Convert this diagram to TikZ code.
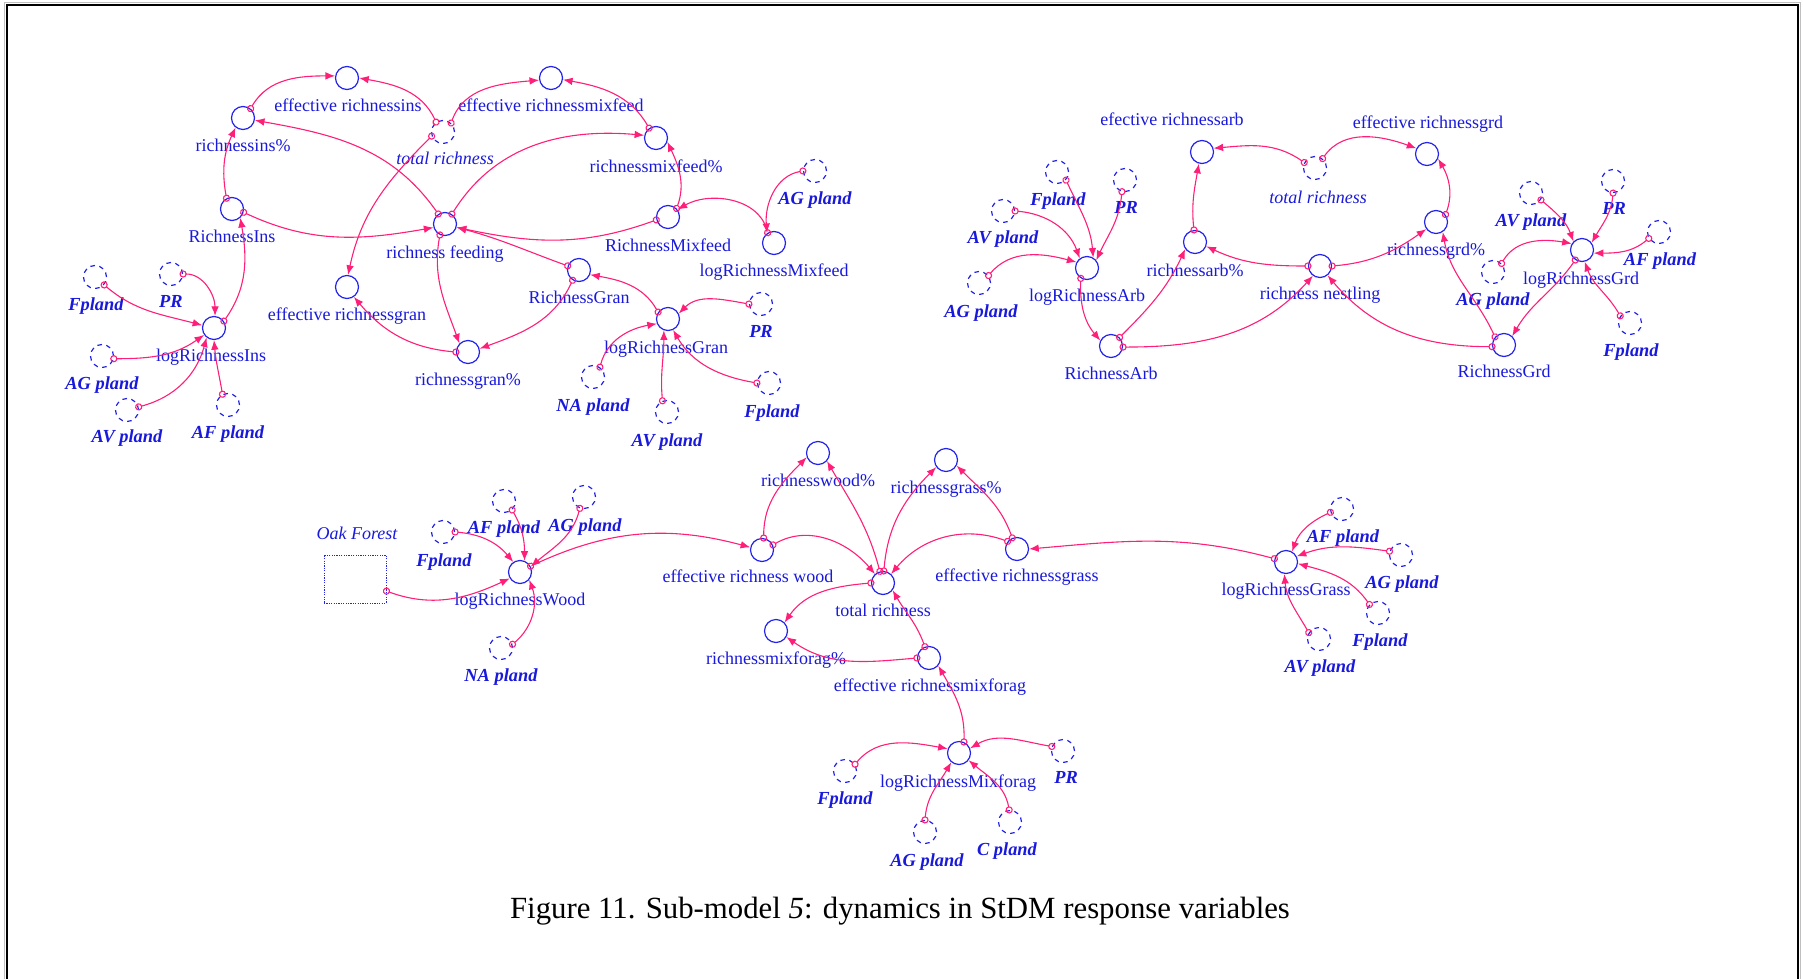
\documentclass[tikz,border=0pt]{standalone}
\usepackage{fontspec}
\setmainfont{Liberation Serif}
\usetikzlibrary{arrows.meta}

\definecolor{lnkc}{RGB}{255,30,120}
\definecolor{varc}{RGB}{35,35,235}
\definecolor{txtc}{RGB}{25,25,220}

% auxiliary variable: solid circle with its name below
\newcommand\auxv[4]{\node[auxc] (#1) at (#2) {};\node[lbl] (#1-t) at (#3) {#4};}
% shadow variable: dashed circle, bold italic name
\newcommand\shdv[4]{\node[shdc] (#1) at (#2) {};\node[slbl] (#1-t) at (#3) {#4};}
% shadow variable with plain italic name
\newcommand\shdiv[4]{\node[shdc] (#1) at (#2) {};\node[ilbl] (#1-t) at (#3) {#4};}
% causal link: source, source anchor, out, in, target, target anchor
\newcommand\lk[6]{\draw[lnk] (#1.#2) to[out=#3,in=#4] (#5.#6);}

\begin{document}
\begin{tikzpicture}[x=0.5pt,y=-0.5pt,
  auxc/.style={circle, draw=varc, line width=0.6pt, minimum size=11.5pt, inner sep=0pt},
  shdc/.style={auxc, dash pattern=on 2.3pt off 2.2pt},
  lbl/.style={text=txtc, font=\fontsize{9}{10}\selectfont, inner sep=0pt, text height=6.3pt, text depth=1.8pt},
  slbl/.style={lbl, font=\fontsize{9.2}{10}\selectfont\bfseries\itshape},
  ilbl/.style={lbl, font=\fontsize{9}{10}\selectfont\itshape},
  lnk/.style={draw=lnkc, line width=0.55pt,
    arrows={Circle[open,length=3.6pt,width=3.6pt]-Latex[length=4.8pt,width=3.8pt]},
    shorten <=-1.8pt},
  stockbox/.style={draw=varc, line width=0.45pt, dash pattern=on 0.6pt off 0.6pt,
    minimum width=31pt, minimum height=24pt, inner sep=0pt},
  figcap/.style={font=\fontsize{15.4}{18}\selectfont, inner sep=0pt, anchor=base}
]
\useasboundingbox (0,0) rectangle (1803,979);

% frame
\draw[gray!50, line width=0.5pt] (4,979) -- (4,2.5) -- (1800,2.5) -- (1800,979);
\draw[black, line width=1pt] (6.5,979) -- (6.5,5) -- (1797.5,5) -- (1797.5,979);

% ---------------- feeding guilds ----------------
\auxv{eri}{347,78}{348,107}{effective richnessins}
\auxv{erm}{551,78}{551,107}{effective richnessmixfeed}
\auxv{rip}{243,118}{243,147}{richnessins\%}
\shdiv{tra}{443,132}{445,160}{total richness}
\auxv{rmp}{656,138}{656,168}{richnessmixfeed\%}
\shdv{aga}{815,171}{815,200}{AG pland}
\auxv{ri}{232,209}{232,238}{RichnessIns}
\auxv{rf}{445,224}{445,254}{richness feeding}
\auxv{rm}{668,217}{668,247}{RichnessMixfeed}
\auxv{lrm}{774,243}{774,272}{logRichnessMixfeed}
\auxv{rg}{579,270}{579,299}{RichnessGran}
\auxv{erg}{347,287}{347,316}{effective richnessgran}
\shdv{fpa}{95,277}{96,306}{Fpland}
\shdv{pra}{171,274}{171,303}{PR}
\auxv{lri}{214,328}{211,357}{logRichnessIns}
\auxv{lrg}{668,319}{666,349}{logRichnessGran}
\shdv{prb}{761,304}{761,333}{PR}
\shdv{agb}{102,356}{102,385}{AG pland}
\auxv{rgp}{468,352}{468,381}{richnessgran\%}
\shdv{nab}{593,377}{593,407}{NA pland}
\shdv{avb}{667,412}{667,442}{AV pland}
\shdv{fpb}{769,383}{772,413}{Fpland}
\shdv{ava}{127,410}{127,438}{AV pland}
\shdv{afa}{228,405}{228,434}{AF pland}

\lk{tra}{125}{115}{-10}{eri}{0}
\lk{tra}{48}{70}{185}{erm}{190}
\lk{rip}{51}{60}{180}{eri}{170}
\lk{rmp}{125}{120}{-10}{erm}{-8}
\lk{tra}{200}{225}{78}{erg}{85}
\lk{ri}{117}{100}{245}{rip}{232}
\lk{ri}{-16}{-25}{190}{rf}{197}
\lk{rf}{124}{125}{-10}{rip}{-11}
\lk{rf}{55}{58}{175}{rmp}{167}
\lk{rf}{245}{260}{110}{rgp}{135}
\lk{rm}{194}{200}{-12}{rf}{-16}
\lk{rm}{45}{70}{-65}{rmp}{-19}
\lk{lrm}{122}{105}{30}{rm}{38}
\lk{aga}{180}{190}{95}{lrm}{125}
\lk{rg}{160}{160}{-15}{rf}{-16}
\lk{rg}{238}{245}{20}{rgp}{16}
\lk{lrg}{145}{120}{-10}{rg}{-23}
\lk{prb}{180}{170}{45}{lrg}{27}
\lk{nab}{55}{75}{190}{lrg}{203}
\lk{avb}{112}{95}{270}{lrg}{250}
\lk{fpb}{180}{170}{-60}{lrg}{-65}
\lk{rgp}{180}{175}{-50}{erg}{-55}
\lk{fpa}{-41}{-40}{165}{lri}{167}
\lk{pra}{0}{0}{90}{lri}{85}
\lk{agb}{-13}{0}{215}{lri}{215}
\lk{ava}{15}{15}{255}{lri}{232}
\lk{afa}{117}{100}{275}{lri}{270}
\lk{lri}{35}{55}{-80}{ri}{-47}

% ---------------- nesting guilds ----------------
\auxv{era}{1202,152}{1172,121}{efective richnessarb}
\auxv{erd}{1427,154}{1428,124}{effective richnessgrd}
\shdiv{trb}{1315,168}{1318,199}{total richness}
\shdv{fpc}{1057,172}{1058,201}{Fpland}
\shdv{prc}{1125,180}{1126,209}{PR}
\shdv{avc}{1003,211}{1003,239}{AV pland}
\shdv{agc}{979,283}{981,313}{AG pland}
\auxv{lra}{1087,268}{1087,297}{logRichnessArb}
\auxv{rap}{1195,242}{1195,272}{richnessarb\%}
\auxv{rn}{1320,266}{1320,295}{richness nestling}
\auxv{rdp}{1436,222}{1436,251}{richnessgrd\%}
\auxv{ra}{1111,346}{1111,375}{RichnessArb}
\auxv{rd}{1504,345}{1504,373}{RichnessGrd}
\shdv{avd}{1531,193}{1531,222}{AV pland}
\shdv{prd}{1613,181}{1614,210}{PR}
\shdv{afd}{1659,232}{1660,261}{AF pland}
\auxv{lrd}{1582,250}{1581,280}{logRichnessGrd}
\shdv{agd}{1493,272}{1493,301}{AG pland}
\shdv{fpd}{1630,323}{1631,352}{Fpland}

\lk{trb}{153}{145}{5}{era}{18}
\lk{trb}{51}{55}{160}{erd}{152}
\lk{rap}{95}{96}{260}{era}{255}
\lk{rdp}{38}{70}{-60}{erd}{-23}
\lk{rn}{180}{180}{-25}{rap}{-21}
\lk{rn}{0}{5}{215}{rdp}{216}
\lk{fpc}{-42}{-65}{95}{lra}{59}
\lk{prc}{255}{265}{65}{lra}{40}
\lk{avc}{0}{-5}{110}{lra}{127}
\lk{agc}{38}{50}{165}{lra}{151}
\lk{lra}{239}{268}{130}{ra}{153}
\lk{ra}{45}{45}{245}{rap}{216}
\lk{ra}{-5}{0}{228}{rn}{234}
\lk{rd}{188}{180}{-50}{rn}{-51}
\lk{rd}{138}{115}{-80}{rdp}{-56}
\lk{avd}{-35}{-40}{110}{lrd}{135}
\lk{prd}{270}{265}{60}{lrd}{37}
\lk{afd}{212}{220}{0}{lrd}{-15}
\lk{agd}{45}{60}{170}{lrd}{148}
\lk{fpd}{144}{120}{-70}{lrd}{283}
\lk{lrd}{236}{235}{60}{rd}{47}

% ---------------- foraging guilds ----------------
\auxv{rwp}{818,453}{818,482}{richnesswood\%}
\auxv{rgsp}{946,460}{946,489}{richnessgrass\%}
\node[stockbox] (oak) at (355,579) {};
\node[ilbl] (oak-t) at (357,535) {Oak Forest};
\shdv{fpe}{443,532}{444,562}{Fpland}
\shdv{afe}{504,501}{504,529}{AF pland}
\shdv{age}{584,497}{585,527}{AG pland}
\auxv{lrw}{520,572}{520,601}{logRichnessWood}
\shdv{nae}{501,648}{501,677}{NA pland}
\auxv{erw}{762,550}{748,578}{effective richness wood}
\auxv{trc}{883,583}{883,612}{total richness}
\auxv{ergs}{1017,549}{1017,577}{effective richnessgrass}
\auxv{rmfp}{776,631}{776,660}{richnessmixforag\%}
\auxv{ermf}{929,658}{930,687}{effective richnessmixforag}
\auxv{lrmf}{959,753}{958,783}{logRichnessMixforag}
\shdv{fpf}{845,771}{845,800}{Fpland}
\shdv{prf}{1063,751}{1066,779}{PR}
\shdv{agf}{925,832}{927,862}{AG pland}
\shdv{cpf}{1010,822}{1007,851}{C pland}
\auxv{lrgs}{1286,562}{1286,591}{logRichnessGrass}
\shdv{afg}{1342,509}{1343,538}{AF pland}
\shdv{agg}{1401,555}{1402,584}{AG pland}
\shdv{fpg}{1378,613}{1380,642}{Fpland}
\shdv{avg}{1319,639}{1320,668}{AV pland}

\lk{oak}{-21}{-20}{205}{lrw}{212}
\lk{fpe}{0}{-5}{130}{lrw}{124}
\lk{afe}{-48}{-60}{90}{lrw}{68}
\lk{age}{250}{255}{40}{lrw}{27}
\lk{nae}{18}{40}{-70}{lrw}{-40}
\lk{lrw}{29}{25}{165}{erw}{167}
\lk{erw}{82}{90}{225}{rwp}{201}
\lk{trc}{105}{105}{-60}{rwp}{-42}
\lk{trc}{86}{85}{225}{rgsp}{216}
\lk{ergs}{113}{110}{-45}{rgsp}{-28}
\lk{erw}{25}{30}{130}{trc}{132}
\lk{ergs}{141}{160}{50}{trc}{48}
\lk{lrgs}{164}{165}{5}{ergs}{0}
\lk{trc}{180}{185}{55}{rmfp}{45}
\lk{ermf}{180}{185}{-35}{rmfp}{-30}
\lk{ermf}{110}{110}{-60}{trc}{-37}
\lk{lrmf}{66}{88}{-60}{ermf}{-40}
\lk{fpf}{34}{50}{170}{lrmf}{159}
\lk{prf}{158}{170}{30}{lrmf}{23}
\lk{agf}{90}{85}{240}{lrmf}{230}
\lk{cpf}{94}{100}{-40}{lrmf}{-37}
\lk{afg}{196}{205}{70}{lrgs}{60}
\lk{agg}{162}{172}{20}{lrgs}{28}
\lk{fpg}{135}{125}{-15}{lrgs}{-8}
\lk{avg}{148}{120}{-85}{lrgs}{262}

% caption
\node[figcap] (caption) at (900,918) {Figure 11. Sub-model \textit{5}: dynamics in StDM response variables};
\end{tikzpicture}
\end{document}
